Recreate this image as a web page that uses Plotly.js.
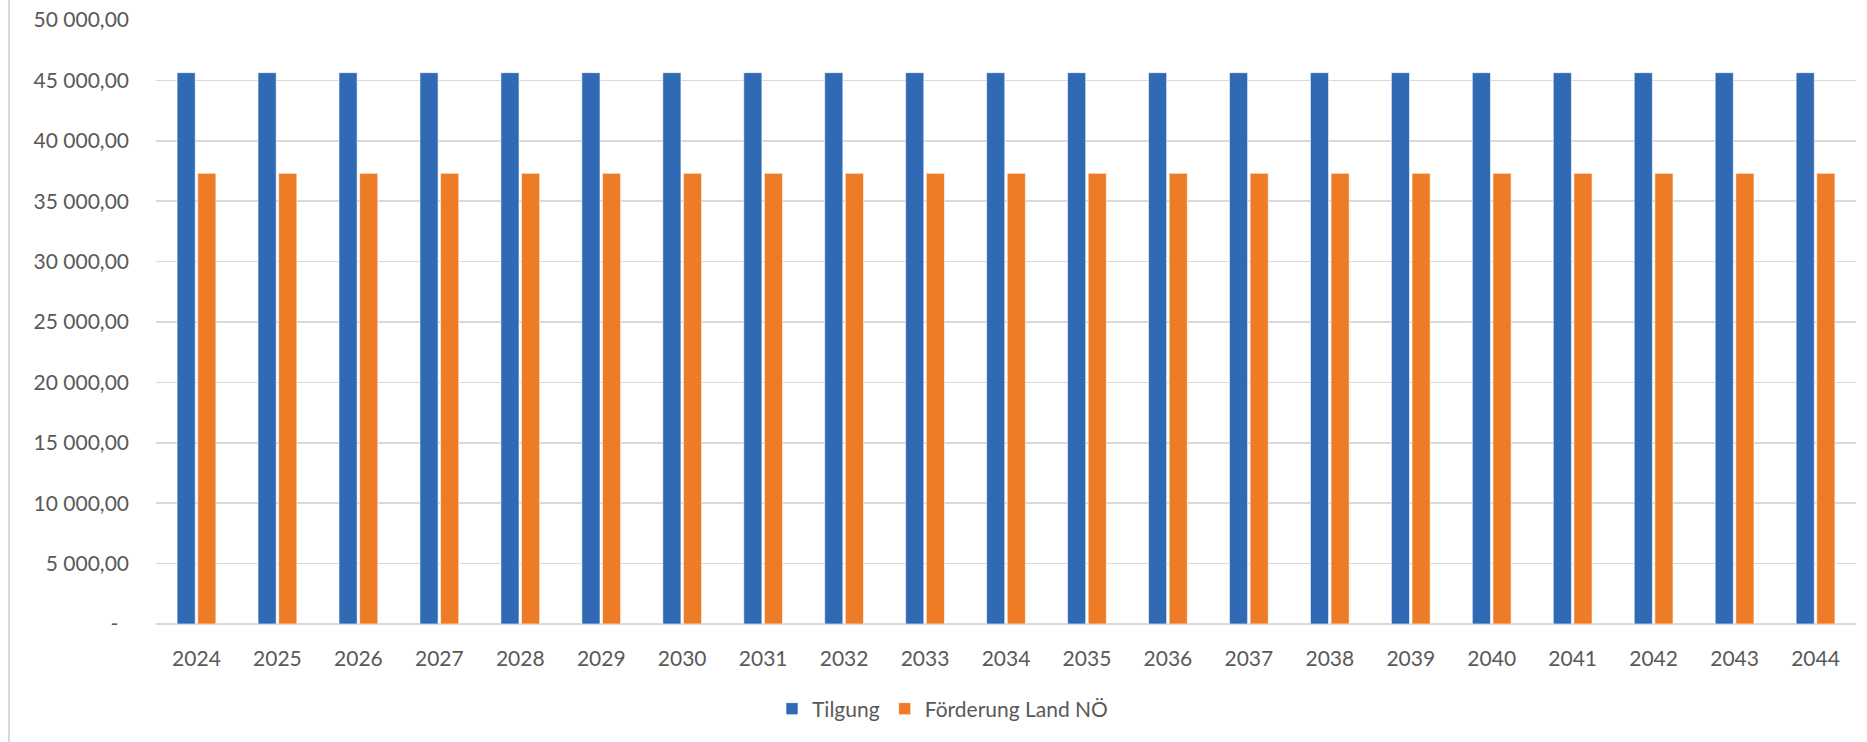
<!DOCTYPE html>
<html>
<head>
<meta charset="utf-8">
<script src="https://cdn.plot.ly/plotly-3.0.1.min.js"></script>
<style>html,body{margin:0;padding:0;background:#fff;}#chart{width:1867px;height:742px;}</style>
</head>
<body>
<div id="chart"></div>
<script>
var years = ['2024','2025','2026','2027','2028','2029','2030','2031','2032','2033','2034','2035','2036','2037','2038','2039','2040','2041','2042','2043','2044'];
var tilgung = [45640,45640,45640,45640,45640,45640,45640,45640,45640,45640,45640,45640,45640,45640,45640,45640,45640,45640,45640,45640,45640];
var foerderung = [37310,37310,37310,37310,37310,37310,37310,37310,37310,37310,37310,37310,37310,37310,37310,37310,37310,37310,37310,37310,37310];
var yTickVals = [0,5000,10000,15000,20000,25000,30000,35000,40000,45000,50000];
var yTickText = ['-\u00a0\u00a0','5 000,00','10 000,00','15 000,00','20 000,00','25 000,00','30 000,00','35 000,00','40 000,00','45 000,00','50 000,00'];

var W = 1867, H = 742;
var mL = 156, mR = 11, mT = 20, mB = 118;
var pw = W - mL - mR, ph = H - mT - mB;
var FONT = 'Lato, "Open Sans", sans-serif';
var TXT = '#595959';

var traces = [
  {type:'bar', name:'Tilgung', x:years, y:tilgung,
   marker:{color:'#316ab4', line:{color:'rgba(255,255,255,0.6)', width:1}}},
  {type:'bar', name:'Förderung Land NÖ', x:years, y:foerderung,
   marker:{color:'#ee7b26', line:{color:'rgba(255,255,255,0.6)', width:1}}}
];

var layout = {
  width: W, height: H,
  margin:{l:mL, r:mR, t:mT, b:mB, pad:0},
  paper_bgcolor:'#fff', plot_bgcolor:'#fff',
  barmode:'group', bargap:0.49, bargroupgap:0.12,
  font:{family:FONT, color:TXT, size:21},
  showlegend:true,
  legend:{orientation:'h', x:(772-mL)/pw, xanchor:'left', y:(mT+ph-709)/ph, yanchor:'middle',
          font:{family:FONT, size:21, color:TXT}, traceorder:'normal', itemwidth:30},
  xaxis:{type:'category', showgrid:false, zeroline:false, showline:false, ticks:'',
         ticklabelstandoff:20, tickfont:{family:FONT, size:21, color:TXT}, fixedrange:true},
  yaxis:{range:[0,50000], tickmode:'array', tickvals:yTickVals, ticktext:yTickText,
         showgrid:true, gridcolor:'#d9d9d9', gridwidth:1.5, zeroline:true, zerolinecolor:'#d9d9d9', zerolinewidth:1.5,
         showline:false, ticks:'', ticklabelstandoff:26, tickfont:{family:FONT, size:21, color:TXT}, fixedrange:true},
  shapes:[{type:'line', xref:'paper', yref:'paper', x0:(9-mL)/pw, x1:(9-mL)/pw, y0:-mB/ph, y1:1+mT/ph,
           line:{color:'#d9d9d9', width:2}}]
};

Plotly.newPlot('chart', traces, layout, {displayModeBar:false, staticPlot:true});
</script>
</body>
</html>
